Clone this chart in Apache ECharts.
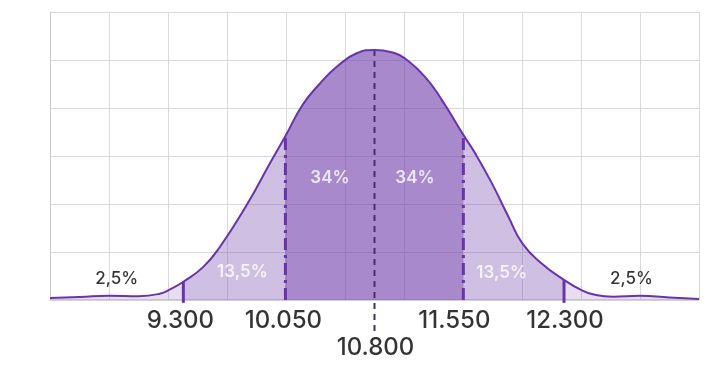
<!DOCTYPE html>
<html>
<head>
<meta charset="utf-8">
<script src="https://cdn.jsdelivr.net/npm/echarts@6/dist/echarts.min.js"></script>
<style>html,body{margin:0;padding:0;background:#fff}#c{width:723px;height:391px}</style>
</head>
<body>
<div id="c"></div>
<script>
// ---- data ----
const curveX = [8050, 8300, 8550, 8800, 8980, 9067, 9180, 9349, 9491, 9722, 9914, 10042, 10192, 10338, 10480, 10649, 10800, 10974, 11059, 11228, 11370, 11553, 11652, 11793, 11934, 12053, 12217, 12406, 12550, 12650, 12820, 13050, 13300, 13550];
const curveY = [0.04, 0.06, 0.09, 0.08, 0.13, 0.22, 0.38, 0.69, 1.11, 2.0, 2.85, 3.40, 4.07, 4.51, 4.86, 5.14, 5.21, 5.14, 5.03, 4.65, 4.17, 3.44, 3.06, 2.44, 1.74, 1.18, 0.76, 0.42, 0.21, 0.12, 0.07, 0.09, 0.05, 0.02];
const meanX = 10800;
const meanY = 5.21;
const sigma1X = [10045, 11553];
const sigma1Y = [3.42, 3.44];
const sigma2X = [9180, 12406];
const sigma2Y = [0.38, 0.42];
const tickLabels = ['9.300', '10.050', '10.800', '11.550', '12.300'];
const tickAt = [9180, 10045, 10800, 11553, 12406];
const regionLabels = ['2,5%', '13,5%', '34%', '34%', '13,5%', '2,5%'];
const xMin = 8050, xMax = 13550;

// ---- styles ----
const lineColor = '#6a33ae';
const cLight = 'rgba(110,60,170,0.17)';
const cMid = 'rgba(110,60,170,0.33)';
const cDark = 'rgba(110,60,170,0.6)';
const FONT = 'Inter, Lato, sans-serif';

const curve = curveX.map((x, i) => [x, curveY[i]]);
const bounds = [xMin, sigma2X[0], sigma1X[0], meanX, sigma1X[1], sigma2X[1], xMax];
const regionStyle = [
  {color: '#000', weight: 500, y: 0.44, dx: 0},
  {color: '#fff', weight: 600, y: 0.59, dx: 8},
  {color: '#fff', weight: 600, y: 2.54, dx: 0},
  {color: '#fff', weight: 600, y: 2.54, dx: -4},
  {color: '#fff', weight: 600, y: 0.57, dx: -12},
  {color: '#000', weight: 500, y: 0.43, dx: 0}
];
const regionData = regionLabels.map((t, i) => ({
  value: [(bounds[i] + bounds[i + 1]) / 2, regionStyle[i].y],
  label: {formatter: t, color: regionStyle[i].color, fontWeight: regionStyle[i].weight, offset: [regionStyle[i].dx, 0]}
}));
const tickDx = [-3, -2, 1, -9, 1];
const tickData = tickLabels.map((t, i) => ({
  value: [tickAt[i], i === 2 ? -1.0 : -0.44],
  label: {formatter: t, offset: [tickDx[i], 0]}
}));

const vLine = (pts, style) => ({
  type: 'line', data: pts, symbol: 'none', clip: false, silent: true, animation: false,
  lineStyle: style, z: 4
});

const SMOOTH = 0.5;
const series = [
  {
    type: 'line', data: curve, smooth: SMOOTH, symbol: 'none', animation: false,
    lineStyle: {width: 0}, areaStyle: {opacity: 1}, z: 2
  },
  vLine([[meanX, meanY], [meanX, -0.67]], {color: '#45306a', width: 2, type: [6, 5]}),
  vLine([[sigma1X[0], 0], [sigma1X[0], sigma1Y[0]]], {color: lineColor, width: 3, type: [12, 5, 3, 5]}),
  vLine([[sigma1X[1], 0], [sigma1X[1], sigma1Y[1]]], {color: lineColor, width: 3, type: [12, 5, 3, 5]}),
  vLine([[sigma2X[0], -0.06], [sigma2X[0], sigma2Y[0]]], {color: lineColor, width: 3}),
  vLine([[sigma2X[1], -0.06], [sigma2X[1], sigma2Y[1]]], {color: lineColor, width: 3}),
  {
    type: 'line', data: curve, smooth: SMOOTH, symbol: 'none', animation: false,
    lineStyle: {color: lineColor, width: 2}, z: 5
  },
  {
    type: 'scatter', data: regionData, symbolSize: 0, clip: false, animation: false, silent: true, z: 6,
    label: {show: true, position: 'inside', fontSize: 17, fontFamily: FONT}
  },
  {
    type: 'scatter', data: tickData, symbolSize: 0, clip: false, animation: false, silent: true, z: 6,
    label: {show: true, position: 'inside', fontSize: 24, fontWeight: 500, fontFamily: FONT, color: '#000'}
  }
];

const chart = echarts.init(document.getElementById('c'), null, {renderer: 'canvas'});
chart.setOption({
  animation: false,
  grid: {left: 50, right: 24, top: 12, bottom: 91, containLabel: false},
  xAxis: [
    {type: 'value', min: xMin, max: xMax, axisLabel: {show: false}, axisTick: {show: false},
     splitLine: {show: false}, axisLine: {show: true, lineStyle: {color: '#cfcfcf', width: 1.5}}},
    {type: 'value', min: 0, max: 11, interval: 1, position: 'bottom', axisLabel: {show: false}, axisTick: {show: false},
     axisLine: {show: false}, splitLine: {show: true, lineStyle: {color: '#d9d9d9', width: 1}}}
  ],
  yAxis: {type: 'value', min: 0, max: 6, interval: 1, axisLabel: {show: false}, axisTick: {show: false},
    axisLine: {show: true, lineStyle: {color: '#c8c8c8', width: 1}},
    splitLine: {show: true, lineStyle: {color: '#d9d9d9', width: 1}}},
  visualMap: {
    show: false, type: 'piecewise', dimension: 0, seriesIndex: 0,
    pieces: [
      {lt: sigma2X[0], color: cLight},
      {gte: sigma2X[0], lt: sigma1X[0], color: cMid},
      {gte: sigma1X[0], lt: sigma1X[1], color: cDark},
      {gte: sigma1X[1], lt: sigma2X[1], color: cMid},
      {gte: sigma2X[1], color: cLight}
    ]
  },
  series: series
});
</script>
</body>
</html>
